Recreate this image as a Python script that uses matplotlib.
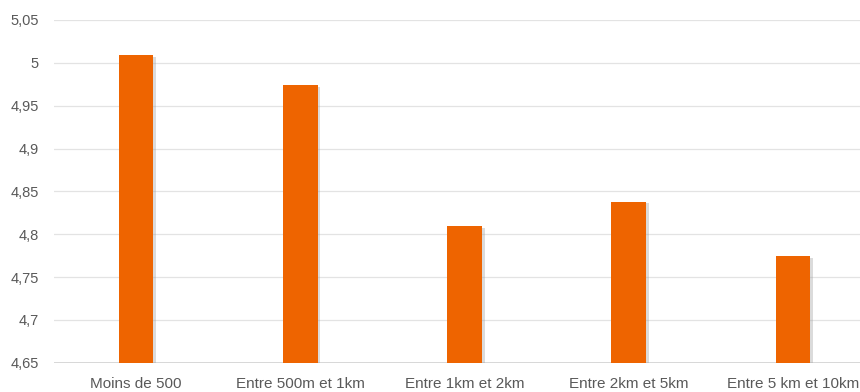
import matplotlib
matplotlib.use("Agg")
import matplotlib.pyplot as plt
import matplotlib.patheffects as pe
from matplotlib.ticker import FuncFormatter, MultipleLocator

categories = ["Moins de 500", "Entre 500m et 1km", "Entre 1km et 2km",
              "Entre 2km et 5km", "Entre 5 km et 10km"]
values = [5.009, 4.974, 4.809, 4.838, 4.774]

plt.rcParams['font.family'] = ['Liberation Sans Narrow', 'Liberation Sans', 'DejaVu Sans']

fig = plt.figure(figsize=(8.6, 3.92), dpi=100)
ax = fig.add_axes([54/860, 29.3/392, 821/860, 342.7/392])

bars = ax.bar(range(len(categories)), [v - 4.65 for v in values], bottom=4.65,
              width=0.21, color="#EE6400", zorder=3)
for b in bars:
    b.set_path_effects([pe.SimplePatchShadow(offset=(2, -1), shadow_rgbFace="#999999", alpha=0.35),
                        pe.Normal()])

ax.set_xlim(-0.5, 4.5)
ax.set_ylim(4.65, 5.05)
ax.yaxis.set_major_locator(MultipleLocator(0.05))
ax.yaxis.set_major_formatter(FuncFormatter(lambda v, p: f"{round(v, 2):g}".replace(".", ",")))
ax.grid(axis="y", color="#e3e3e3", linewidth=0.9, zorder=0)
ax.axhline(4.65, color="#d0d0d0", linewidth=1.2, zorder=1)

ax.set_xticks(range(len(categories)))
ax.set_xticklabels(categories, fontsize=11)
for s in ax.spines.values():
    s.set_visible(False)
ax.tick_params(axis="both", length=0, labelsize=10.5, colors="#595959")
ax.tick_params(axis="x", pad=10, labelsize=11)
ax.tick_params(axis="y", pad=11)

fig.savefig("out.png", dpi=100)
